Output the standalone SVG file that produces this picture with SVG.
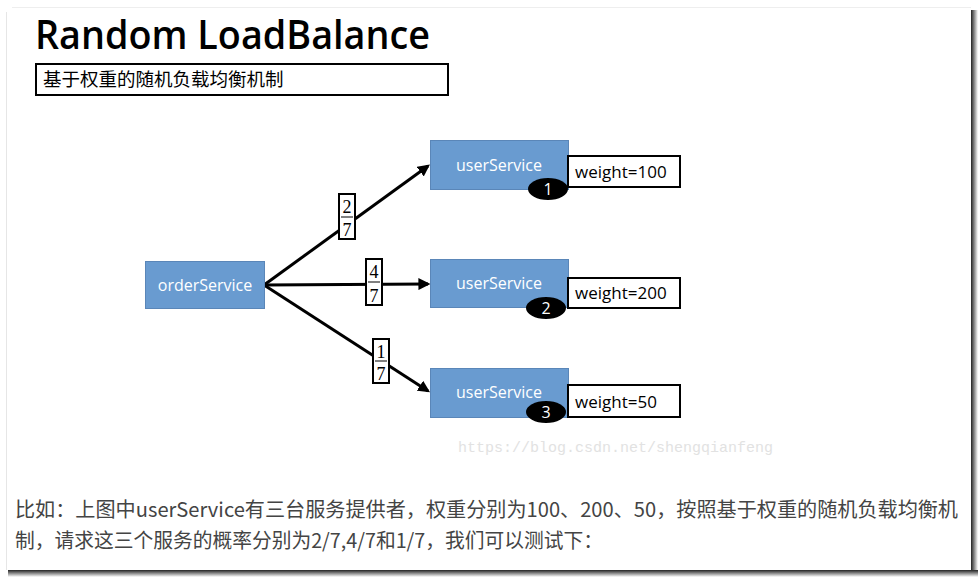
<svg xmlns="http://www.w3.org/2000/svg" width="979" height="578" viewBox="0 0 979 578">
<defs>
<style>
.svc{fill:#699bd0;stroke:#5a86b8;stroke-width:1}
.svct{font-family:"Open Sans","Liberation Sans",sans-serif;font-size:16px;fill:#ffffff;text-anchor:middle}
.wbox{fill:#ffffff;stroke:#000;stroke-width:2}
.wt{font-family:"Open Sans","Liberation Sans",sans-serif;font-size:17px;fill:#000}
.badge{fill:#000}
.bt{font-family:"Open Sans","Liberation Sans",sans-serif;font-size:16px;fill:#fff;text-anchor:middle}
.edge{stroke:#000;stroke-width:3;fill:none;marker-end:url(#ah)}
.fbox{fill:#fff;stroke:#000;stroke-width:2}
.ft{font-family:"Liberation Serif",serif;font-size:18px;fill:#000;text-anchor:middle}
.para{font-family:"Noto Sans CJK SC","Noto Sans",sans-serif;font-size:20px;fill:#444}
</style>
<marker id="ah" viewBox="0 0 10 10" refX="8" refY="5" markerWidth="4" markerHeight="4" orient="auto" markerUnits="strokeWidth">
<path d="M0,0 L10,5 L0,10 z" fill="#000"/>
</marker>
<linearGradient id="shR" x1="0" x2="1" y1="0" y2="0">
<stop offset="0" stop-color="#222"/><stop offset="1" stop-color="#fff"/>
</linearGradient>
<linearGradient id="shB" x1="0" x2="0" y1="0" y2="1">
<stop offset="0" stop-color="#222"/><stop offset="1" stop-color="#fff"/>
</linearGradient>
</defs>
<rect width="979" height="578" fill="#fff"/>
<g id="frame">
<rect x="971" y="10" width="7" height="567" fill="url(#shR)"/>
<rect x="8" y="570" width="970" height="7" fill="url(#shB)"/>
<line x1="12" y1="7.5" x2="971" y2="7.5" stroke="#eeeeee" stroke-width="1"/>
<line x1="6.5" y1="12" x2="6.5" y2="570" stroke="#e6e6e6" stroke-width="1"/>
</g>
<g id="title">
<text x="35" y="49" font-family="Open Sans,Liberation Sans,sans-serif" font-size="39" font-weight="600" fill="#000" textLength="395" lengthAdjust="spacingAndGlyphs">Random LoadBalance</text>
</g>
<g id="subtitle">
<rect x="36" y="64" width="412" height="31" fill="#fff" stroke="#000" stroke-width="2"/>
<text x="43" y="86" font-family="Noto Sans CJK SC,sans-serif" font-size="18.5" fill="#000">基于权重的随机负载均衡机制</text>
</g>
<g id="connectors">
<line class="edge" x1="264" y1="285" x2="428" y2="166"/>
<line class="edge" x1="264" y1="285" x2="428" y2="284"/>
<line class="edge" x1="264" y1="285" x2="428" y2="391"/>
</g>
<g id="frac1">
<rect class="fbox" x="339" y="194" width="16" height="45"/>
<text class="ft" x="347" y="213">2</text>
<line x1="341" y1="217" x2="353" y2="217" stroke="#000" stroke-width="1"/>
<text class="ft" x="347" y="236">7</text>
</g>
<g id="frac2">
<rect class="fbox" x="366" y="259" width="16" height="46"/>
<text class="ft" x="374" y="278">4</text>
<line x1="368" y1="282" x2="380" y2="282" stroke="#000" stroke-width="1"/>
<text class="ft" x="374" y="302">7</text>
</g>
<g id="frac3">
<rect class="fbox" x="373" y="339" width="16" height="44"/>
<text class="ft" x="381" y="358">1</text>
<line x1="375" y1="361" x2="387" y2="361" stroke="#000" stroke-width="1"/>
<text class="ft" x="381" y="380">7</text>
</g>
<g id="orderService">
<rect class="svc" x="145.5" y="261.5" width="119" height="47"/>
<text class="svct" x="205" y="291">orderService</text>
</g>
<g id="userService1">
<rect class="svc" x="430.5" y="140.5" width="138" height="49"/>
<text class="svct" x="499" y="171">userService</text>
</g>
<g id="weight1">
<rect class="wbox" x="568" y="156" width="112" height="31"/>
<text class="wt" x="575" y="178">weight=100</text>
</g>
<g id="badge1">
<ellipse class="badge" cx="548" cy="189" rx="20" ry="11"/>
<text class="bt" x="548" y="195">1</text>
</g>
<g id="userService2">
<rect class="svc" x="430.5" y="259.5" width="138" height="48"/>
<text class="svct" x="499" y="289">userService</text>
</g>
<g id="weight2">
<rect class="wbox" x="568" y="278" width="112" height="30"/>
<text class="wt" x="575" y="299">weight=200</text>
</g>
<g id="badge2">
<ellipse class="badge" cx="546" cy="308" rx="20" ry="11"/>
<text class="bt" x="546" y="314">2</text>
</g>
<g id="userService3">
<rect class="svc" x="430.5" y="368.5" width="138" height="49"/>
<text class="svct" x="499" y="398">userService</text>
</g>
<g id="weight3">
<rect class="wbox" x="568" y="385" width="112" height="32"/>
<text class="wt" x="575" y="408">weight=50</text>
</g>
<g id="badge3">
<ellipse class="badge" cx="546" cy="412" rx="20" ry="11"/>
<text class="bt" x="546" y="418">3</text>
</g>
<g id="watermark">
<text x="458" y="452" font-family="Liberation Mono,monospace" font-size="15" fill="#e2e2e2" textLength="315" lengthAdjust="spacingAndGlyphs">https://blog.csdn.net/shengqianfeng</text>
</g>
<g id="paragraph">
<text class="para" x="15" y="517" textLength="943" lengthAdjust="spacingAndGlyphs">比如：上图中userService有三台服务提供者，权重分别为100、200、50，按照基于权重的随机负载均衡机</text>
<text class="para" x="15" y="548" textLength="588" lengthAdjust="spacingAndGlyphs">制，请求这三个服务的概率分别为2/7,4/7和1/7，我们可以测试下：</text>
</g>
</svg>
